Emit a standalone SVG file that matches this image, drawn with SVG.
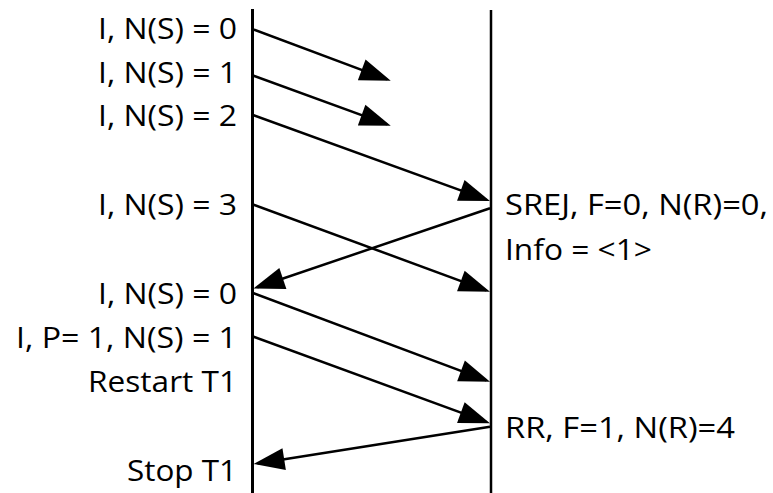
<svg xmlns="http://www.w3.org/2000/svg" width="773" height="493" viewBox="0 0 773 493">
<style>
  .lbl { font-family: "Open Sans", "Liberation Sans", sans-serif; font-size: 29.5px; fill: #000; }
  .life { stroke: #000; fill: none; }
  .msg { stroke: #000; stroke-width: 2.5; fill: none; marker-end: url(#arr); }
</style>
<defs>
  <marker id="arr" markerUnits="userSpaceOnUse" markerWidth="31" markerHeight="22" refX="27" refY="11" orient="auto" overflow="visible">
    <path d="M0,0 L31,11 L0,22 z" fill="#000"/>
  </marker>
</defs>
<rect width="773" height="493" fill="#fff"/>
<g id="sender">
  <line class="life" x1="252.5" y1="9" x2="252.5" y2="493" stroke-width="3"/>
  <text class="lbl" x="98" y="39" textLength="139" lengthAdjust="spacingAndGlyphs">I, N(S) = 0</text>
  <text class="lbl" x="98" y="83" textLength="139" lengthAdjust="spacingAndGlyphs">I, N(S) = 1</text>
  <text class="lbl" x="98" y="126" textLength="139" lengthAdjust="spacingAndGlyphs">I, N(S) = 2</text>
  <text class="lbl" x="98" y="215" textLength="139" lengthAdjust="spacingAndGlyphs">I, N(S) = 3</text>
  <text class="lbl" x="98" y="304" textLength="139" lengthAdjust="spacingAndGlyphs">I, N(S) = 0</text>
  <text class="lbl" x="16" y="348" textLength="221" lengthAdjust="spacingAndGlyphs">I, P= 1, N(S) = 1</text>
  <text class="lbl" x="88" y="392" textLength="149" lengthAdjust="spacingAndGlyphs">Restart T1</text>
  <text class="lbl" x="127" y="481" textLength="110" lengthAdjust="spacingAndGlyphs">Stop T1</text>
</g>
<g id="receiver">
  <line class="life" x1="491" y1="10" x2="491" y2="493" stroke-width="2.5"/>
  <text class="lbl" x="505" y="215" textLength="263" lengthAdjust="spacingAndGlyphs">SREJ, F=0, N(R)=0,</text>
  <text class="lbl" x="505" y="260" textLength="147" lengthAdjust="spacingAndGlyphs">Info = &lt;1&gt;</text>
  <text class="lbl" x="505" y="438" textLength="230" lengthAdjust="spacingAndGlyphs">RR, F=1, N(R)=4</text>
</g>
<g id="connectors">
  <line class="msg" x1="253" y1="29.3" x2="387" y2="79.3"/>
  <line class="msg" x1="253" y1="75.5" x2="387" y2="124.3"/>
  <line class="msg" x1="253" y1="115" x2="486.2" y2="199.6"/>
  <line class="msg" x1="490" y1="208.3" x2="257.3" y2="287.2"/>
  <line class="msg" x1="253" y1="204.5" x2="486.2" y2="290.3"/>
  <line class="msg" x1="253" y1="293" x2="486.3" y2="380.3"/>
  <line class="msg" x1="253" y1="336.5" x2="486.2" y2="421.9"/>
  <line class="msg" x1="490" y1="426.7" x2="257.5" y2="463.4"/>
</g>
</svg>
